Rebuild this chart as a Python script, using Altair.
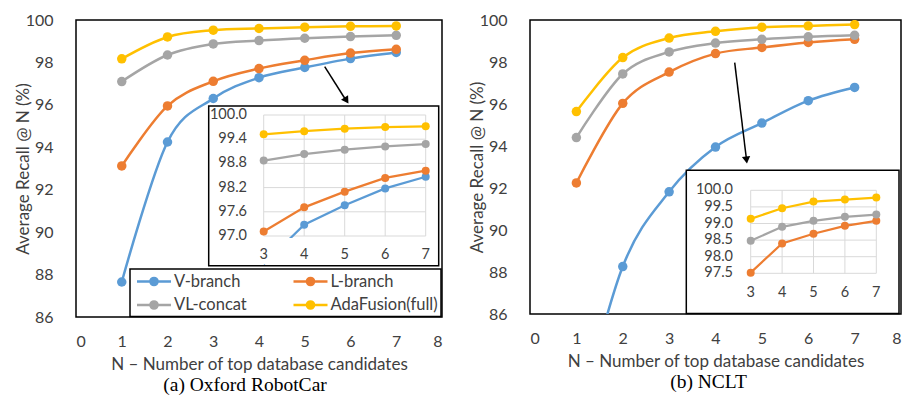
import altair as alt
import pandas as pd

# ---------------- data ----------------
N = [1, 2, 3, 4, 5, 6, 7]
series_names = ["V-branch", "L-branch", "VL-concat", "AdaFusion(full)"]
series_colors = ["#5B9BD5", "#ED7D31", "#A5A5A5", "#FFC000"]

# (a) Oxford RobotCar
ox_v = [87.65, 94.25, 96.30, 97.28, 97.76, 98.18, 98.47]
ox_l = [93.12, 95.95, 97.11, 97.71, 98.10, 98.44, 98.62]
ox_vl = [97.10, 98.35, 98.87, 99.03, 99.14, 99.22, 99.28]
ox_ada = [98.17, 99.20, 99.52, 99.60, 99.66, 99.70, 99.72]

# (b) NCLT
nc_v = [80.50, 88.26, 91.82, 93.95, 95.09, 96.16, 96.79]
nc_l = [92.24, 96.03, 97.52, 98.40, 98.69, 98.93, 99.08]
nc_vl = [94.40, 97.43, 98.48, 98.90, 99.08, 99.20, 99.27]
nc_ada = [95.64, 98.21, 99.14, 99.46, 99.66, 99.72, 99.78]

main_x_ticks = [0, 1, 2, 3, 4, 5, 6, 7, 8]
main_y_ticks = [86, 88, 90, 92, 94, 96, 98, 100]
inset_x_ticks = [3, 4, 5, 6, 7]
ox_inset_y_ticks = [97.0, 97.6, 98.2, 98.8, 99.4, 100.0]
nc_inset_y_ticks = [97.5, 98.0, 98.5, 99.0, 99.5, 100.0]

# legend layout (2 columns x 2 rows)
legend_col = [0, 1, 0, 1]
legend_row = [0, 0, 1, 1]

x_title = "N – Number of top database candidates"
y_title = "Average Recall @ N (%)"

FONT = "Lato"
TXT = "#404040"
LEG_PATH = "M-2,0L2,0M0.42,0A0.42,0.42,0,1,1,-0.42,0A0.42,0.42,0,1,1,0.42,0"


def long_df(vals):
    rows = []
    for name, ys in zip(series_names, vals):
        for n, v in zip(N, ys):
            rows.append({"N": n, "value": v, "series": name})
    return pd.DataFrame(rows)


def panel(df, W, H, g, legend, caption, cap_dx, y_ticks_inset, inset_lo, cover, hide_series):
    cs = alt.Scale(domain=series_names, range=series_colors)
    one = pd.DataFrame({"a": [0]})

    xm = alt.X("N:Q", scale=alt.Scale(domain=[0, 8], nice=False),
               axis=alt.Axis(values=main_x_ticks, title=x_title, labelPadding=16,
                             titlePadding=7, format="d"))
    ym = alt.Y("value:Q", scale=alt.Scale(domain=[86, 100], nice=False, zero=False),
               axis=alt.Axis(values=main_y_ticks, title=y_title, labelPadding=23,
                             titlePadding=-7, format="d"))
    base = alt.Chart(df)
    lines = base.mark_line(interpolate="cardinal", strokeWidth=2.5, clip=True).encode(
        x=xm, y=ym, stroke=alt.Stroke("series:N", scale=cs, legend=None))
    pts = base.mark_point(filled=True, size=90, opacity=1, clip=True).encode(
        x=xm, y=ym, fill=alt.Fill("series:N", scale=cs, legend=None))
    main = alt.layer(lines, pts)

    # ---- inset ----
    (ix0, ix1), (iytop, iybot) = g["ix"], g["iy"]
    xs = alt.Scale(domain=[3, 7], range=[ix0, ix1], nice=False, zero=False)
    ys = alt.Scale(domain=[inset_lo, 100], range=[iybot, iytop], nice=False, zero=False)
    fx0, fx1, fy0, fy1 = g["frame"]
    frame = alt.Chart(one).mark_rect(fill="white", stroke="black", strokeWidth=1.5).encode(
        x=alt.value(fx0), x2=alt.value(fx1), y=alt.value(fy0), y2=alt.value(fy1))
    ydf = pd.DataFrame({"t": y_ticks_inset})
    xdf = pd.DataFrame({"t": inset_x_ticks})
    hgrid = alt.Chart(ydf).mark_rule(color="#D9D9D9", strokeWidth=1).encode(
        y=alt.Y("t:Q", scale=ys, axis=None), x=alt.value(ix0), x2=alt.value(ix1))
    vgrid = alt.Chart(xdf).mark_rule(color="#D9D9D9", strokeWidth=1).encode(
        x=alt.X("t:Q", scale=xs, axis=None), y=alt.value(iytop), y2=alt.value(iybot))
    idata = alt.Chart(df).transform_filter("datum.N >= 3").transform_filter(
        alt.FieldOneOfPredicate(field="series", oneOf=[s for s in series_names if s not in hide_series]))
    xi = alt.X("N:Q", scale=xs, axis=None)
    yi = alt.Y("value:Q", scale=ys, axis=None)
    ilines = idata.mark_line(strokeWidth=2.2).encode(
        x=xi, y=yi, stroke=alt.Stroke("series:N", scale=cs, legend=None))
    ipts = idata.transform_filter(f"datum.value >= {inset_lo}").mark_point(
        filled=True, size=64, opacity=1).encode(
        x=xi, y=yi, fill=alt.Fill("series:N", scale=cs, legend=None))
    layers = [frame, hgrid, vgrid, ilines, ipts]
    if cover:
        layers.append(alt.Chart(one).mark_rect(fill="white").encode(
            x=alt.value(fx0 + 2), x2=alt.value(fx1 - 2),
            y=alt.value(iybot + 2), y2=alt.value(fy1 - 1.5)))
    ylab = alt.Chart(ydf).mark_text(align="right", baseline="middle", font=FONT,
                                    fontSize=14.5, color=TXT).encode(
        y=alt.Y("t:Q", scale=ys, axis=None), x=alt.value(g["ylabx"]),
        text=alt.Text("t:Q", format=".1f"))
    xlab = alt.Chart(xdf).mark_text(align="center", baseline="middle", font=FONT,
                                    fontSize=14.5, color=TXT).encode(
        x=alt.X("t:Q", scale=xs, axis=None), y=alt.value(g["xlaby"]),
        text=alt.Text("t:Q", format="d"))
    layers += [ylab, xlab]
    inset = alt.layer(*layers)

    # ---- arrow ----
    (ax0, ay0), (ax1, ay1) = g["arrow"]
    shaft = alt.Chart(one).mark_rule(color="black", strokeWidth=1.5).encode(
        x=alt.value(ax0), y=alt.value(ay0), x2=alt.value(ax1), y2=alt.value(ay1))
    head = alt.Chart(one).mark_point(shape="triangle-down", filled=True, size=70,
                                     color="black", opacity=1, angle=g["angle"]).encode(
        x=alt.value(g["head"][0]), y=alt.value(g["head"][1]))

    parts = [main, inset, shaft, head]

    # ---- legend box (panel a only) ----
    if legend:
        lx0, lx1, ly0, ly1 = g["legbox"]
        ldf = pd.DataFrame({"series": series_names, "col": legend_col, "row": legend_row})
        lxs = alt.Scale(domain=[0, 1], range=list(g["legcols"]), nice=False, zero=False)
        lys = alt.Scale(domain=[0, 1], range=list(g["legrows"]), nice=False, zero=False)
        lbox = alt.Chart(one).mark_rect(fill="white", stroke="black", strokeWidth=1.5).encode(
            x=alt.value(lx0), x2=alt.value(lx1), y=alt.value(ly0), y2=alt.value(ly1))
        lsym = alt.Chart(ldf).mark_point(shape=LEG_PATH, size=289, strokeWidth=2.5,
                                         opacity=1, filled=False).encode(
            x=alt.X("col:Q", scale=lxs, axis=None), y=alt.Y("row:Q", scale=lys, axis=None),
            stroke=alt.Stroke("series:N", scale=cs, legend=None),
            fill=alt.Fill("series:N", scale=cs, legend=None))
        ltxt = alt.Chart(ldf).mark_text(align="left", baseline="middle", dx=20,
                                        font=FONT, fontSize=16.5, color=TXT).encode(
            x=alt.X("col:Q", scale=lxs, axis=None), y=alt.Y("row:Q", scale=lys, axis=None),
            text="series:N")
        parts.append(alt.layer(lbox, lsym, ltxt))

    return alt.layer(*parts).resolve_scale(
        x="independent", y="independent").properties(
        width=W, height=H,
        title=alt.TitleParams(caption, orient="bottom", font="Liberation Serif",
                              fontSize=19.5, fontWeight="normal", color="black",
                              offset=4, dx=cap_dx, frame="group"))


geom_a = {
    "frame": (132.7, 362.7, 86, 245.7),
    "ix": (187.7, 349.7), "iy": (95, 216),
    "ylabx": 171, "xlaby": 235,
    "arrow": ((248.7, 46.7), (269.5, 79.5)), "head": (270.5, 80.5), "angle": 327.5,
    "legbox": (54, 365, 249, 296.5),
    "legcols": (78, 234.5), "legrows": (261.5, 285),
}
geom_b = {
    "frame": (156.3, 369, 150.3, 293.5),
    "ix": (220.7, 346.3), "iy": (170.3, 253.3),
    "ylabx": 203, "xlaby": 273,
    "arrow": ((204.7, 42.7), (216.3, 138)), "head": (216.5, 140), "angle": 353,
}

pa = panel(long_df([ox_v, ox_l, ox_vl, ox_ada]), 366, 297, geom_a, True,
           "(a) Oxford RobotCar", -14, ox_inset_y_ticks, 97.0, True, [])
pb = panel(long_df([nc_v, nc_l, nc_vl, nc_ada]), 371, 294, geom_b, False,
           "(b) NCLT", -7, nc_inset_y_ticks, 97.5, False, ["V-branch"])

chart = alt.hconcat(pa, pb, spacing=24).properties(
    padding={"left": 5, "top": 3, "right": 0, "bottom": 0}
).configure_view(stroke="black", strokeWidth=1.5).configure_axis(
    labelFont=FONT, labelFontSize=16, labelColor=TXT, titleFont=FONT,
    titleFontSize=17, titleFontWeight="normal", titleColor=TXT,
    ticks=False, domain=False, grid=False)

chart.save("out.html", embed_options={"renderer": "svg", "actions": False})
